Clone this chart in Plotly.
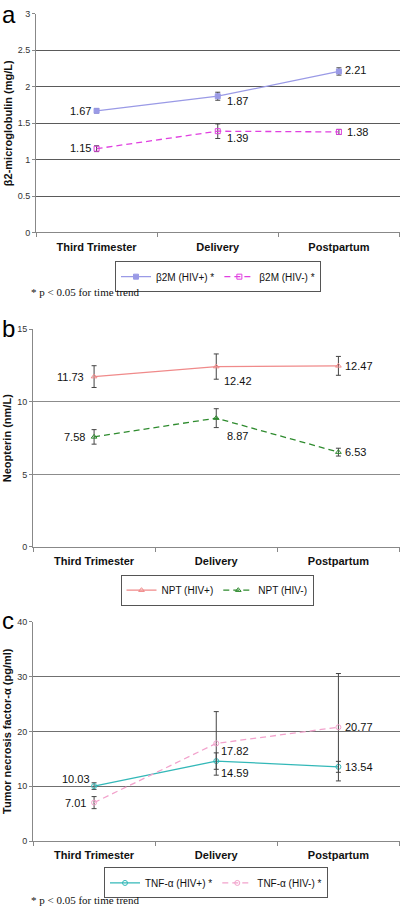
import plotly.graph_objects as go

W, H = 400, 912

categories = ["Third Trimester", "Delivery", "Postpartum"]

# Panel a: beta2-microglobulin (mg/L)
b2m_pos = [1.67, 1.87, 2.21]
b2m_pos_err = [0.03, 0.055, 0.05]
b2m_neg = [1.15, 1.39, 1.38]
b2m_neg_err = [0.04, 0.10, 0.035]

# Panel b: neopterin (nm/L)
npt_pos = [11.73, 12.42, 12.47]
npt_pos_err = [0.75, 0.87, 0.65]
npt_neg = [7.58, 8.87, 6.53]
npt_neg_err = [0.5, 0.65, 0.27]

# Panel c: TNF-alpha (pg/ml)
tnf_pos = [10.03, 14.59, 13.54]
tnf_pos_err = [0.6, 1.5, 1.0]
tnf_neg = [7.01, 17.82, 20.77]
tnf_neg_err = [1.1, 5.8, 9.8]

a_ticks = [0, 0.5, 1, 1.5, 2, 2.5, 3]
b_ticks = [0, 5, 10, 15]
c_ticks = [0, 10, 20, 30, 40]


def px(x):
    return x / W


def py(y):
    return 1 - y / H


FONT = "Liberation Sans, Arial, sans-serif"
SERIF = "Liberation Serif, Times New Roman, serif"

fig = go.Figure()

panels = [
    dict(ax="", leg="legend", top=9, bot=230, left=36, grid="#5a5a5a", gw=1,
         series=[
             ("β2M (HIV+) *", b2m_pos, b2m_pos_err, "#9a9ae6", "solid", "square", "#9a9ae6",
              [("right", -4, 0), ("left", 7, -5), ("left", 4, 1)]),
             ("β2M (HIV-) *", b2m_neg, b2m_neg_err, "#e040e0", "6px,4px", "square-open", "#e040e0",
              [("right", -4, 1), ("left", 7, -7), ("left", 6, 0)]),
         ]),
    dict(ax="2", leg="legend2", top=327.7, bot=548, left=33, grid="#8c8c8c", gw=1.3,
         series=[
             ("NPT (HIV+)", npt_pos, npt_pos_err, "#f08a8a", "solid", "triangle-up-open", "#f08a8a",
              [("right", -8, 0), ("left", 6, -14), ("left", 5, 0)]),
             ("NPT (HIV-)", npt_neg, npt_neg_err, "#2e8b2e", "6px,4px", "triangle-up-open", "#2e8b2e",
              [("right", -7, 0), ("left", 9, -18), ("left", 5, 0)]),
         ]),
    dict(ax="3", leg="legend3", top=623.7, bot=845.3, left=33, grid="#707070", gw=1,
         series=[
             ("TNF-α (HIV+) *", tnf_pos, tnf_pos_err, "#33b8b8", "solid", "circle-open", "#33b8b8",
              [("right", -2, 7), ("left", 3, -12), ("left", 5, 0)]),
             ("TNF-α (HIV-) *", tnf_neg, tnf_neg_err, "#f2a2cc", "6px,4px", "circle-open", "#f2a2cc",
              [("right", -6, 0), ("left", 3, -8), ("left", 5, 0)]),
         ]),
]

annotations = []
for p in panels:
    xa = "x" + p["ax"]
    ya = "y" + p["ax"]
    for name, vals, errs, col, dash, sym, mcol, offs in p["series"]:
        fig.add_trace(go.Scatter(
            x=categories, y=vals, name=name, mode="lines+markers",
            xaxis=xa, yaxis=ya, legend=p["leg"],
            line=dict(color=col, width=1.3, dash=dash),
            marker=dict(symbol=sym, size=5, color=mcol, line=dict(color=mcol, width=1)),
            error_y=dict(type="data", array=errs, visible=True, color="#444444",
                         thickness=1, width=2.5),
            showlegend=True,
        ))
        for c, v, (anc, xs, ys) in zip(categories, vals, offs):
            annotations.append(dict(
                x=c, y=v, xref=xa, yref=ya, text=f"{v:.2f}", showarrow=False,
                xanchor=anc, yanchor="middle", xshift=xs, yshift=ys,
                font=dict(family=FONT, size=11, color="#111111")))

axis_common_x = dict(
    type="category", range=[-0.5, 2.5], showline=True, linecolor="#888888", linewidth=1,
    ticks="outside", tickson="boundaries", ticklen=4, tickcolor="#888888",
    showgrid=False, zeroline=False, ticklabelstandoff=4,
    tickfont=dict(family=FONT, size=11, color="#111111", weight="bold"),
)
axis_common_y = dict(
    showline=True, linecolor="#888888", linewidth=1, ticks="outside", ticklen=3,
    tickcolor="#888888", showgrid=True, zeroline=False,
    tickfont=dict(family=FONT, size=9, color="#333333"),
)

layout = dict(
    width=W, height=H, margin=dict(l=0, r=0, t=0, b=0),
    paper_bgcolor="white", plot_bgcolor="white",
    font=dict(family=FONT),
)

ranges = {"": [0, 3], "2": [0, 15], "3": [0, 40]}
tickvals = {"": a_ticks, "2": b_ticks, "3": c_ticks}
for p in panels:
    k = p["ax"]
    layout["xaxis" + k] = dict(axis_common_x, domain=[px(p["left"]), px(399.5)], anchor="y" + k)
    layout["yaxis" + k] = dict(axis_common_y, domain=[py(p["bot"]), py(p["top"])],
                               anchor="x" + k, range=ranges[k], tickvals=tickvals[k],
                               gridcolor=p["grid"], gridwidth=p["gw"],
                               ticktext=[f"{t:g}" for t in tickvals[k]])

legend_common = dict(
    orientation="h", xanchor="center", yanchor="top", bgcolor="white",
    bordercolor="#555555", borderwidth=1, font=dict(family=FONT, size=10, color="#111111"),
    itemwidth=30, tracegroupgap=0,
)
layout["legend"] = dict(legend_common, x=px(218), y=py(259))
layout["legend2"] = dict(legend_common, x=px(217), y=py(576))
layout["legend3"] = dict(legend_common, x=px(216), y=py(872))

# y-axis titles
ytitles = [("β2-microglobulin (mg/L)", 8, 119.5),
           ("Neopterin (nm/L)", 7, 438),
           ("Tumor necrosis factor-α (pg/ml)", 7, 734)]
for t, x, y in ytitles:
    annotations.append(dict(x=px(x), y=py(y), xref="paper", yref="paper", text=t,
                            textangle=-90, showarrow=False, xanchor="center", yanchor="middle",
                            font=dict(family=FONT, size=11, color="#111111", weight="bold")))

# panel letters
for t, y in [("a", 10), ("b", 327), ("c", 622)]:
    annotations.append(dict(x=0, y=py(y), xref="paper", yref="paper", text=t, showarrow=False,
                            xanchor="left", yanchor="middle",
                            font=dict(family=FONT, size=24, color="#000000")))

# footnotes
for y in [290, 905]:
    annotations.append(dict(x=px(29), y=py(y), xref="paper", yref="paper",
                            text="* p < 0.05 for time trend", showarrow=False,
                            xanchor="left", yanchor="middle",
                            font=dict(family=SERIF, size=11, color="#111111")))

layout["annotations"] = annotations
fig.update_layout(**layout)

fig.write_html("out.html", config={"displayModeBar": False},
               post_script="document.body.style.margin='0px';")
